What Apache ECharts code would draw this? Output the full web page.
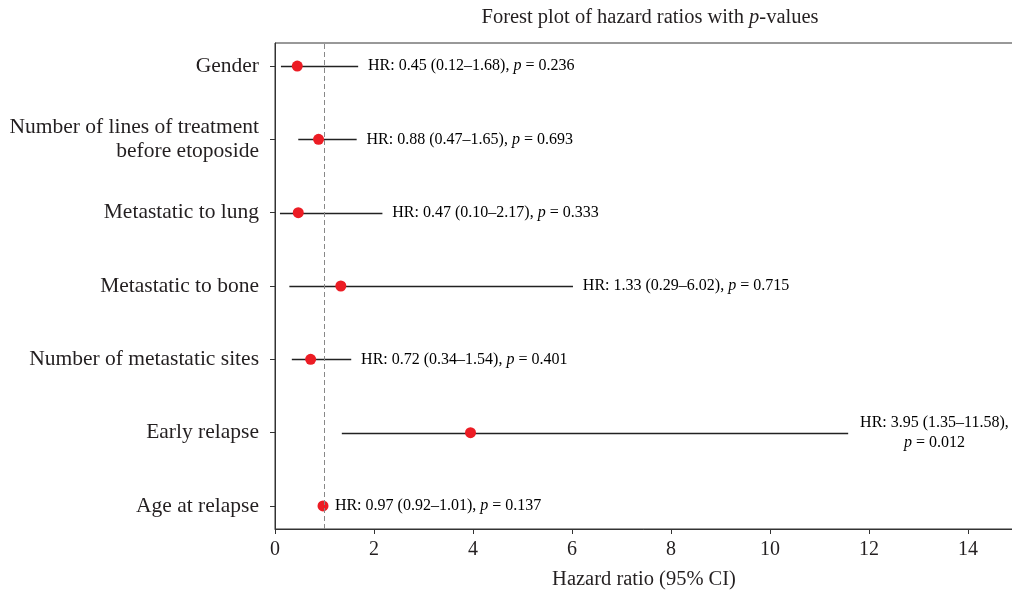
<!DOCTYPE html>
<html>
<head>
<meta charset="utf-8">
<script src="https://cdn.jsdelivr.net/npm/echarts@6/dist/echarts.min.js"></script>
<style>
  html, body { margin: 0; padding: 0; background: #fff; }
  #main { width: 1012px; height: 592px; }
</style>
</head>
<body>
<div id="main"></div>
<script>
// rows from bottom to top
var names = ['Age at relapse', 'Early relapse', 'Number of metastatic sites', 'Metastatic to bone',
    'Metastatic to lung', 'Number of lines of treatment\nbefore etoposide', 'Gender'];
var hr = [0.97, 3.95, 0.72, 1.33, 0.47, 0.88, 0.45];
var ciLow = [0.92, 1.35, 0.34, 0.29, 0.10, 0.47, 0.12];
var ciHigh = [1.01, 11.58, 1.54, 6.02, 2.17, 1.65, 1.68];
var pValues = ['0.137', '0.012', '0.401', '0.715', '0.333', '0.693', '0.236'];
var xTicks = [0, 2, 4, 6, 8, 10, 12, 14];

var serif = '"Liberation Serif", "DejaVu Serif", serif';
var textColor = '#231f20';

var chart = echarts.init(document.getElementById('main'));

var rows = [];
for (var i = 0; i < names.length; i++) {
    rows.push([ciLow[i], ciHigh[i], i, hr[i]]);
}

// measure text to center the wrapped annotation
var measureCtx = document.createElement('canvas').getContext('2d');
function textWidth(s, size) {
    measureCtx.font = size + 'px ' + serif;
    return measureCtx.measureText(s).width;
}

var annoSize = 16;
var rich = {
    n: { fontFamily: serif, fontSize: annoSize, color: textColor },
    i: { fontFamily: serif, fontSize: annoSize, color: textColor, fontStyle: 'italic' }
};

var option = {
    animation: false,
    title: {
        text: 'Forest plot of hazard ratios with {i|p}-values',
        left: 645,
        textAlign: 'center',
        top: 2,
        textStyle: {
            fontFamily: serif, fontSize: 20.5, fontWeight: 'normal', color: textColor,
            rich: {
                i: { fontFamily: serif, fontSize: 20.5, fontStyle: 'italic', color: textColor }
            }
        }
    },
    grid: {
        left: 275, right: -1, top: 43, bottom: 63,
        outerBoundsMode: 'none',
        show: true, borderColor: '#333', borderWidth: 1
    },
    xAxis: {
        type: 'value',
        min: 0, max: 14.91, interval: 2,
        name: 'Hazard ratio (95% CI)',
        nameLocation: 'middle',
        nameGap: 40,
        nameTextStyle: { fontFamily: serif, fontSize: 20.5, color: textColor },
        axisLine: { show: true, onZero: false, lineStyle: { color: '#333' } },
        axisTick: { show: true, length: 5, lineStyle: { color: '#333' } },
        axisLabel: {
            fontFamily: serif, fontSize: 20, color: textColor, margin: 11,
            showMaxLabel: false,
            formatter: function (v) { return xTicks.indexOf(v) >= 0 ? String(v) : ''; }
        },
        splitLine: { show: false }
    },
    yAxis: {
        type: 'value',
        min: -0.314, max: 6.314,
        axisLine: { show: true, onZero: false, lineStyle: { color: '#333' } },
        axisTick: { show: true, length: 5, customValues: [0, 1, 2, 3, 4, 5, 6], lineStyle: { color: '#333' } },
        axisLabel: {
            customValues: [0, 1, 2, 3, 4, 5, 6],
            fontFamily: serif, fontSize: 21.5, color: textColor, margin: 16, lineHeight: 24,
            formatter: function (v) { return names[Math.round(v)]; }
        },
        splitLine: { show: false }
    },
    series: [
        {
            type: 'custom',
            data: rows,
            z: 2,
            renderItem: function (params, api) {
                var lo = api.value(0), hi = api.value(1), y = api.value(2), idx = params.dataIndex;
                var p1 = api.coord([lo, y]);
                var p2 = api.coord([hi, y]);
                var ly = Math.round(p1[1]) + 0.5;
                var children = [{
                    type: 'line',
                    shape: { x1: p1[0], y1: ly, x2: p2[0], y2: ly },
                    style: { stroke: '#222', lineWidth: 1.3 }
                }];
                var first = 'HR: ' + hr[idx].toFixed(2) + ' (' + ciLow[idx].toFixed(2) + '\u2013' + ciHigh[idx].toFixed(2) + '),';
                var start = api.coord([hi + 0.2, y]);
                if (hi > 10) {
                    var w = textWidth(first, annoSize);
                    children.push({
                        type: 'text',
                        style: {
                            x: start[0] + 2 + w / 2, y: start[1],
                            text: '{n|' + first + '}\n{i|p}{n| = ' + pValues[idx] + '}',
                            rich: rich, align: 'center', verticalAlign: 'middle', lineHeight: 20
                        }
                    });
                } else {
                    children.push({
                        type: 'text',
                        style: {
                            x: start[0], y: start[1],
                            text: '{n|' + first + ' }{i|p}{n| = ' + pValues[idx] + '}',
                            rich: rich, align: 'left', verticalAlign: 'middle'
                        }
                    });
                }
                return { type: 'group', children: children };
            }
        },
        {
            type: 'scatter',
            z: 3,
            data: hr.map(function (v, i) { return [v, i]; }),
            symbol: 'circle',
            symbolSize: 11,
            itemStyle: { color: '#ec1c24', opacity: 1 },
            markLine: {
                silent: true,
                symbol: 'none',
                label: { show: false },
                lineStyle: { color: '#888', type: [5, 3], width: 1 },
                data: [{ xAxis: 1 }]
            }
        }
    ]
};

chart.setOption(option);
</script>
</body>
</html>
